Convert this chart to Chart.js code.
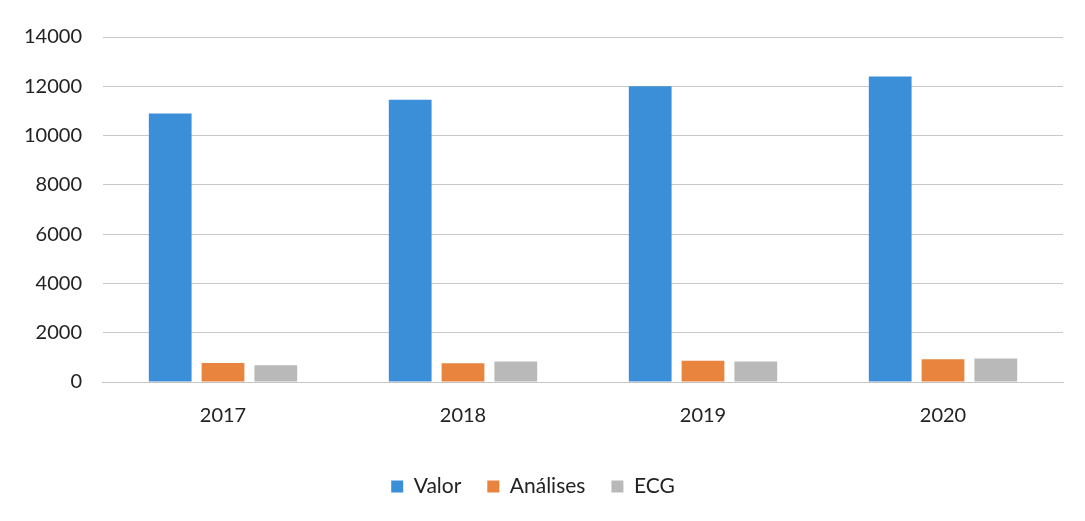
<!DOCTYPE html>
<html>
<head>
<meta charset="utf-8">
<script src="https://cdn.jsdelivr.net/npm/chart.js@4/dist/chart.umd.min.js"></script>
<style>
  html, body { margin: 0; padding: 0; background: #fff; }
  #wrap { width: 1085px; height: 521px; position: relative; }
</style>
</head>
<body>
<div id="wrap"><canvas id="myChart" width="1085" height="521"></canvas></div>
<script>
const years = ['2017', '2018', '2019', '2020'];
const valor = [10900, 11450, 12000, 12400];
const analises = [775, 760, 860, 925];
const ecg = [680, 830, 835, 950];

const ctx = document.getElementById('myChart').getContext('2d');
const barChart = new Chart(ctx, {
    type: 'bar',
    data: {
        labels: years,
        datasets: [{
            label: 'Valor',
            data: valor,
            backgroundColor: '#3a8fd8',
            borderColor: '#3a8fd8'
        }, {
            label: 'Análises',
            data: analises,
            backgroundColor: '#e8843e',
            borderColor: '#e8843e'
        }, {
            label: 'ECG',
            data: ecg,
            backgroundColor: '#b9b9b9',
            borderColor: '#b9b9b9'
        }]
    },
    options: {
        responsive: false,
        animation: false,
        categoryPercentage: 0.66,
        barPercentage: 0.81,
        layout: { padding: { left: 3, right: 22, top: 37, bottom: 14 } },
        plugins: {
            tooltip: { enabled: false },
            legend: {
                position: 'bottom',
                labels: {
                    font: { family: 'Lato', size: 21 },
                    color: '#222',
                    boxWidth: 12,
                    boxHeight: 12,
                    padding: 26
                }
            }
        },
        scales: {
            x: {
                grid: { display: false, drawTicks: false },
                border: { color: '#c4c4c4' },
                ticks: {
                    font: { family: 'Lato', size: 20 },
                    color: '#222',
                    padding: 22
                }
            },
            y: {
                min: 0,
                max: 14000,
                ticks: {
                    stepSize: 2000,
                    font: { family: 'Lato', size: 20 },
                    color: '#222',
                    padding: 21,
                    callback: v => String(v)
                },
                grid: { color: '#c8c8c8', drawTicks: false },
                border: { display: false }
            }
        }
    }
});
</script>
</body>
</html>
